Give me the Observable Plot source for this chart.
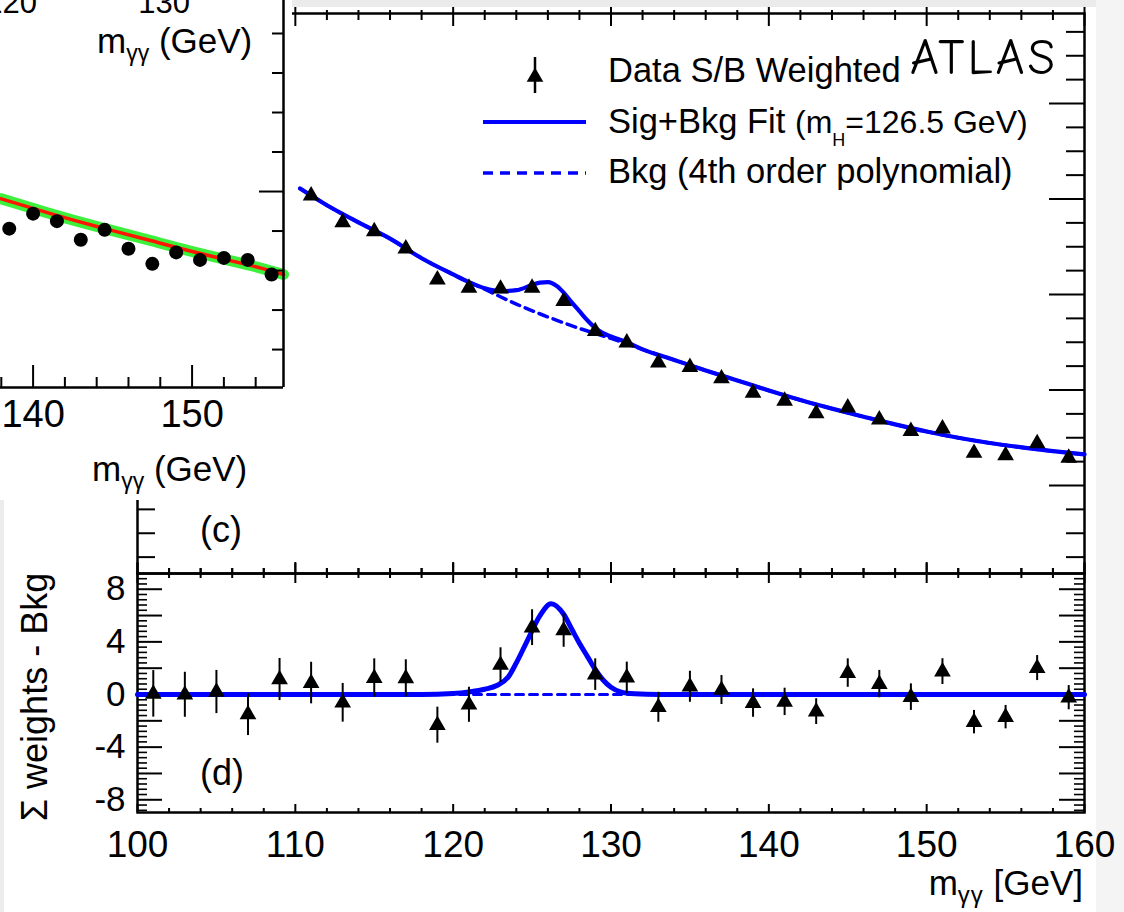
<!DOCTYPE html>
<html><head><meta charset="utf-8">
<script src="https://cdn.jsdelivr.net/npm/d3@7"></script>
<script src="https://cdn.jsdelivr.net/npm/@observablehq/plot@0.6"></script>
<style>
html,body{margin:0;padding:0;background:#fff;}
#wrap{position:relative;width:1124px;height:912px;overflow:hidden;background:#fff;}
.layer{position:absolute;left:0;top:0;}
#inset{position:absolute;left:0;top:0;width:292px;height:500px;background:#fff;overflow:hidden;}
</style></head><body><div id="wrap"><div id="bgLayer" class="layer"></div><div id="cLayer" class="layer"></div><div id="dLayer" class="layer"></div><div id="inset"></div><div id="overlay" class="layer"></div></div>
<script>
const FONT = '"Liberation Sans", Arial, Helvetica, sans-serif';
const BLUE = "#0000ff";

// ---- Panel (c): S/B weighted data, visible bins (GeV) and weights
const cMass = [111,113,115,117,119,121,123,125,127,129,131,133,135,137,139,141,143,145,147,149,151,153,155,157,159];
const cWeights = [80.7,75.1,73.2,69.6,63.1,61.4,61.2,61.4,58.6,52.3,49.9,45.7,44.8,42.4,39.4,37.7,35.1,36.3,33.8,31.4,31.9,26.8,26.3,28.8,25.8];
// Sig+Bkg fit curve
const cFitMass = [110.3,112,114,116,118,120,121,122,123,124,125,125.5,126,126.6,127,127.5,128,128.5,129,129.5,130,131,132,134,136,138,140,142,144,146,148,150,152,154,156,158,160];
const cFitVals = [82.2,78.7,75.1,71.7,67.6,64.2,62.6,61.3,60.7,60.9,62.0,62.5,62.6,61.7,60.4,58.4,56.5,54.6,53.0,51.9,51.2,50.0,48.5,46.3,44.1,42.0,39.9,37.9,36.1,34.4,32.8,31.3,30.0,28.9,28.0,27.2,26.5];
// Bkg (4th order polynomial) curve
const cBkgMass = [110.3,112,114,116,118,120,122,124,126,128,130,132,134,136,138,140,142,144,146,148,150,152,154,156,158,160];
const cBkgVals = [82.2,78.7,75.1,71.7,67.6,64.2,61.1,58.0,55.3,52.9,50.8,48.5,46.3,44.1,42.0,39.9,37.9,36.1,34.4,32.8,31.3,30.0,28.9,28.0,27.2,26.5];

// ---- Panel (d): sum of weights minus background
const dMass = [101,103,105,107,109,111,113,115,117,119,121,123,125,127,129,131,133,135,137,139,141,143,145,147,149,151,153,155,157,159];
const dResid = [0.05,-0.02,0.19,-1.52,1.14,0.87,-0.63,1.25,1.22,-2.33,-0.78,2.24,5.08,4.86,1.51,1.28,-0.97,0.59,0.34,-0.65,-0.56,-1.30,1.63,0.79,-0.20,1.74,-2.10,-1.72,2.01,-0.24];
const dErr = [1.77,1.71,1.64,1.6,1.6,1.58,1.47,1.46,1.42,1.37,1.33,1.31,1.36,1.27,1.2,1.18,1.14,1.18,1.1,1.08,1.04,0.98,1.08,1.04,1.01,0.98,0.89,0.89,0.95,0.92];
const dSigMass = [100,110,118,120,121,122,122.8,123.5,124,124.7,125.5,126.2,127,127.5,128,128.5,129,129.5,130,130.6,131.5,133,140,150,160];
const dSigVals = [0,0,0,0.08,0.2,0.4,0.7,1.35,2.4,4.1,6.0,6.9,6.1,5.0,3.9,2.9,1.9,1.1,0.55,0.2,0.05,0,0,0,0];
const dBkgMass = [100,160];
const dBkgVals = [0,0];

// ---- Inset (b): events and fit
const bMass = [138.5,140,141.5,143,144.5,146,147.5,149,150.5,152,153.5,155];
const bEvents = [1906,1944,1925,1878,1903,1855,1817,1846,1827,1832,1827,1790];
const bFitMass = [137.95,141.1,144.24,147.38,150.53,153.67,155.75];
const bFitVals = [1982,1944,1909,1876,1843,1813,1790];

// ---- tick values / labels
const xMajorTicks = [100,110,120,130,140,150,160];
const xMinorTicks = d3.range(102,160,2).filter(v => v % 10 !== 0);
const cMajorY = [20,40,60,80,100];
const cMinorY = d3.range(5,119,5).filter(v => v % 20 !== 0);
const dLabelY = [-8,-4,0,4,8];
const dMajorY = [-8,-6,-4,-2,0,2,4,6,8];
const dMinorY = d3.range(-22,23).map(i => +(i*0.4).toFixed(2)).filter(v => Math.abs(v/2 - Math.round(v/2)) > 1e-6);
const bMajorX = [140,150];
const bMinorX = [138,142,144,146,148,152,154];
const bMajorY = [2000];
const bMinorY = [1600,1700,1800,1900,2100,2200,2300,2400];
const topLabelsA = ["120","130"];

const cData = cMass.map((m,i) => ({m, v:cWeights[i]}));
const cFit = cFitMass.map((m,i) => ({m, v:cFitVals[i]}));
const cBkg = cBkgMass.map((m,i) => ({m, v:cBkgVals[i]}));
const dData = dMass.map((m,i) => ({m, v:dResid[i], e:dErr[i]}));
const dSig = dSigMass.map((m,i) => ({m, v:dSigVals[i]}));
const dBkg = dBkgMass.map((m,i) => ({m, v:dBkgVals[i]}));
const bData = bMass.map((m,i) => ({m, v:bEvents[i]}));
const bFit = bFitMass.map((m,i) => ({m, v:bFitVals[i]}));

const TK = {stroke:"black", strokeWidth:2};

// background strips of the scanned page
document.getElementById("bgLayer").innerHTML = `
<svg width="1124" height="912" xmlns="http://www.w3.org/2000/svg">
  <rect x="292" y="0" width="832" height="7" fill="#ebebeb"/>
  <rect x="1096" y="0" width="28" height="912" fill="#f4f4f4"/>
  <rect x="0" y="500" width="4" height="412" fill="#ececec"/>
</svg>`;

// ---------- Panel (c)
const cW = 1084-137, cH = 573-13;
const plotC = Plot.plot({
  width:1124, height:912, marginLeft:137, marginRight:40, marginTop:13, marginBottom:339,
  x:{domain:[100,160], axis:null}, y:{domain:[1.57,118.85], axis:null},
  style:{background:"transparent", fontFamily:FONT, color:"black"},
  marks:[
    Plot.ruleX(xMajorTicks, {...TK, insetTop:-6, insetBottom:cH-13}),
    Plot.ruleX(xMinorTicks, {...TK, insetTop:-3, insetBottom:cH-7}),
    Plot.ruleX(xMajorTicks, {...TK, insetTop:cH-11}),
    Plot.ruleX(xMinorTicks, {...TK, insetTop:cH-5}),
    Plot.ruleY(cMajorY, {...TK, insetRight:cW-35}),
    Plot.ruleY(cMinorY, {...TK, insetRight:cW-18}),
    Plot.ruleY(cMajorY, {...TK, insetLeft:cW-35}),
    Plot.ruleY(cMinorY, {...TK, insetLeft:cW-18}),
    Plot.frame({stroke:"black", strokeWidth:2.5}),
    Plot.line(cBkg, {x:"m", y:"v", stroke:BLUE, strokeWidth:3.5, strokeDasharray:"9,6", curve:"monotone-x"}),
    Plot.line(cFit, {x:"m", y:"v", stroke:BLUE, strokeWidth:4.2, curve:"monotone-x"}),
    Plot.dot(cData, {x:"m", y:"v", symbol:"triangle", r:6.2, fill:"black", stroke:"none"})
  ]
});
document.getElementById("cLayer").appendChild(plotC);

// ---------- Panel (d)
const dW = 1084-137, dH = 812-573;
const plotD = Plot.plot({
  width:1124, height:912, marginLeft:137, marginRight:40, marginTop:573, marginBottom:100,
  x:{domain:[100,160]}, y:{domain:[-8.966,9.195]},
  style:{background:"transparent", fontFamily:FONT, color:"black"},
  marks:[
    Plot.ruleX(xMajorTicks, {...TK, insetTop:-10, insetBottom:dH-10}),
    Plot.ruleX(xMinorTicks, {...TK, insetTop:-5, insetBottom:dH-5}),
    Plot.ruleX(xMajorTicks, {...TK, insetTop:dH-8}),
    Plot.ruleX(xMinorTicks, {...TK, insetTop:dH-4}),
    Plot.ruleY(dMajorY, {...TK, insetRight:dW-25}),
    Plot.ruleY(dMinorY, {...TK, strokeWidth:1.6, insetRight:dW-10}),
    Plot.ruleY(dMajorY, {...TK, insetLeft:dW-25}),
    Plot.ruleY(dMinorY, {...TK, strokeWidth:1.6, insetLeft:dW-10}),
    Plot.frame({stroke:"black", strokeWidth:2.5}),
    Plot.axisX({ticks:xMajorTicks, anchor:"bottom", tickSize:0, tickPadding:18, fontSize:37, tickFormat:d => String(d), label:null}),
    Plot.axisY({ticks:dLabelY, anchor:"left", tickSize:0, tickPadding:12, fontSize:35, tickFormat:d => String(d), label:null}),
    Plot.line(dBkg, {x:"m", y:"v", stroke:BLUE, strokeWidth:3, strokeDasharray:"8,6"}),
    Plot.line(dSig, {x:"m", y:"v", stroke:BLUE, strokeWidth:5, curve:"monotone-x"}),
    Plot.ruleX(dData, {x:"m", y1:d => d.v - d.e, y2:d => d.v + d.e, stroke:"black", strokeWidth:2}),
    Plot.dot(dData, {x:"m", y:"v", symbol:"triangle", r:6.2, fill:"black", stroke:"none"})
  ]
});
document.getElementById("dLayer").appendChild(plotD);

// ---------- Inset (b)
const bW = 283, bH = 387;
const plotB = Plot.plot({
  width:292, height:500, marginLeft:0, marginRight:9, marginTop:0, marginBottom:113,
  x:{domain:[137.95,155.75]}, y:{domain:[1504,2483.5], axis:null},
  style:{background:"white", fontFamily:FONT, color:"black"},
  marks:[
    Plot.line(bFit, {x:"m", y:"v", stroke:"#3cf03c", strokeWidth:11, curve:"natural"}),
    Plot.line(bFit, {x:"m", y:"v", stroke:"#ff1500", strokeWidth:3.5, curve:"natural"}),
    Plot.dot(bData, {x:"m", y:"v", r:7, fill:"black", stroke:"none"}),
    Plot.ruleX(bMajorX, {...TK, insetTop:bH-22}),
    Plot.ruleX(bMinorX, {...TK, insetTop:bH-10}),
    Plot.ruleY(bMajorY, {...TK, insetLeft:bW-24}),
    Plot.ruleY(bMinorY, {...TK, insetLeft:bW-11}),
    Plot.ruleX([155.75], {stroke:"black", strokeWidth:2.5}),
    Plot.ruleY([1504], {stroke:"black", strokeWidth:2.5}),
    Plot.axisX({ticks:bMajorX, anchor:"bottom", tickSize:0, tickPadding:13, fontSize:38, tickFormat:d => String(d), label:null})
  ]
});
document.getElementById("inset").appendChild(plotB);

// ---------- Legend, titles and annotations
const ov = `
<svg width="1124" height="912" xmlns="http://www.w3.org/2000/svg" style="font-family:${FONT.replace(/"/g,"'")};pointer-events:none">
  <!-- panel (a) axis remnants -->
  <text x="37" y="13" text-anchor="end" font-size="31">${topLabelsA[0]}</text>
  <text x="190" y="13" text-anchor="end" font-size="31">${topLabelsA[1]}</text>
  <text x="97" y="53" font-size="35">m<tspan font-size="23" dy="8">γγ</tspan><tspan dy="-8"> (GeV)</tspan></text>
  <!-- panel (b) axis title -->
  <text x="92" y="481" font-size="35">m<tspan font-size="23" dy="8">γγ</tspan><tspan dy="-8"> (GeV)</tspan></text>
  <!-- legend -->
  <line x1="535" y1="57" x2="535" y2="93" stroke="black" stroke-width="2.5"/>
  <path d="${d3.symbol(d3.symbolTriangle, Math.PI*38)()}" transform="translate(535,77)" fill="black"/>
  <text x="608" y="82" font-size="34.5">Data S/B Weighted</text>
  <line x1="483" y1="122" x2="586" y2="122" stroke="${BLUE}" stroke-width="4"/>
  <text x="608" y="133" font-size="34.5">Sig+Bkg Fit<tspan x="795" font-size="32">(m</tspan><tspan font-size="18" dy="13">H</tspan><tspan font-size="32" dy="-13">=126.5 GeV)</tspan></text>
  <line x1="483" y1="173" x2="586" y2="173" stroke="${BLUE}" stroke-width="3.5" stroke-dasharray="10,7"/>
  <text x="608" y="183" font-size="34.5">Bkg (4th order polynomial)</text>
  <text x="910" y="74" font-size="50" font-weight="400" letter-spacing="3" style="font-family:'Comic Sans MS','Comic Neue',cursive">ATLAS</text>
  <!-- panel tags -->
  <text x="200" y="542" font-size="36">(c)</text>
  <text x="200" y="785" font-size="36">(d)</text>
  <!-- axis titles -->
  <text x="1083" y="895" text-anchor="end" font-size="35">m<tspan font-size="24" dy="8" letter-spacing="1">γγ</tspan><tspan dy="-8"> [GeV]</tspan></text>
  <text transform="translate(47,697) rotate(-90)" text-anchor="middle" font-size="36">Σ weights - Bkg</text>
</svg>`;
document.getElementById("overlay").innerHTML = ov;
</script></body></html>
